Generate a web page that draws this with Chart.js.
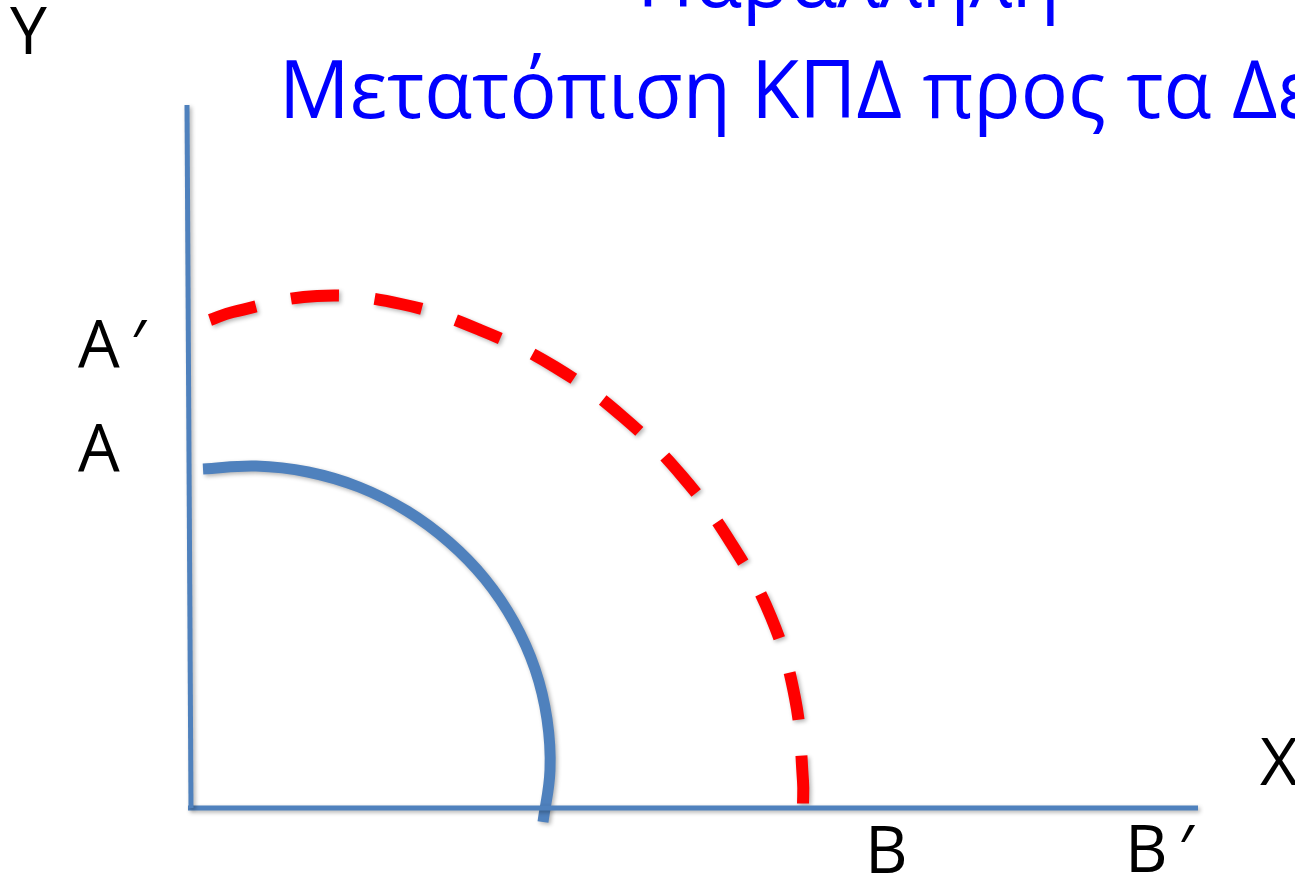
<!DOCTYPE html>
<html>
<head>
<meta charset="utf-8">
<script src="https://cdn.jsdelivr.net/npm/chart.js@4"></script>
<style>
  html, body { margin: 0; padding: 0; background: #fff; overflow: hidden; }
  #wrap { position: relative; width: 1295px; height: 879px; }
</style>
</head>
<body>
<div id="wrap"><canvas id="chart"></canvas></div>
<script>
// slide text
const titleLines = ['Παράλληλη', 'Μετατόπιση ΚΠΔ προς τα Δεξιά'];
const axisNames = ['Y', 'X'];
const tickNames = ['Α\u2009′', 'Α', 'Β', 'Β\u2009′'];

// axis lines (drawn as data, origin at 0,0)
const yAxisLine = [{x: -0.3, y: 70.1}, {x: 0.1, y: -0.2}];
const xAxisLine = [{x: -0.2, y: -0.2}, {x: 100.8, y: -0.2}];

// original curve A-B
const curveAB = [
  {x: 1.3, y: 33.7}, {x: 6.6, y: 34.0}, {x: 11.8, y: 33.4}, {x: 16.9, y: 31.9},
  {x: 21.7, y: 29.5}, {x: 25.9, y: 26.4}, {x: 29.5, y: 22.7}, {x: 32.4, y: 18.4},
  {x: 34.5, y: 13.7}, {x: 35.7, y: 8.7}, {x: 36.0, y: 3.6}, {x: 35.3, y: -1.6}
];

// shifted curve A'-B'
const curveA2B2 = [
  {x: 2.0, y: 48.6}, {x: 4.3, y: 49.4}, {x: 12.7, y: 51.0}, {x: 21.1, y: 50.2},
  {x: 29.0, y: 47.6}, {x: 36.5, y: 43.9}, {x: 43.3, y: 38.9}, {x: 49.2, y: 33.0},
  {x: 54.1, y: 26.3}, {x: 58.1, y: 18.9}, {x: 60.5, y: 10.8}, {x: 61.3, y: 2.5},
  {x: 61.3, y: 0.0}
];

const BLUE = '#4F81BD';
const RED = '#FF0000';

// soft drop shadow like the slide shapes
const shapeShadow = {
  id: 'shapeShadow',
  beforeDatasetsDraw(chart) {
    const ctx = chart.ctx;
    ctx.save();
    ctx.shadowColor = 'rgba(0,0,0,0.3)';
    ctx.shadowBlur = 4;
    ctx.shadowOffsetX = 2;
    ctx.shadowOffsetY = 2;
  },
  afterDatasetsDraw(chart) {
    chart.ctx.restore();
  }
};

// letters on the axes and the (cut off) slide title
const slideText = {
  id: 'slideText',
  afterDraw(chart, args, opts) {
    const {ctx, scales: {x, y}} = chart;
    ctx.save();
    ctx.textBaseline = 'alphabetic';
    ctx.textAlign = 'left';
    ctx.fillStyle = '#000';
    ctx.font = opts.labelFont;
    opts.labels.forEach(l => {
      ctx.fillText(l.text, x.getPixelForValue(l.x), y.getPixelForValue(l.y));
    });

    ctx.fillStyle = '#0000FF';
    ctx.font = opts.titleFont;
    const line2 = titleLines[1];
    const fit = line2.slice(0, line2.lastIndexOf('Δ'));
    const sx = opts.titleFitWidth / ctx.measureText(fit).width;
    opts.titlePos.forEach((p, i) => {
      ctx.save();
      ctx.translate(p[0], p[1]);
      ctx.scale(sx, 1);
      ctx.fillText(titleLines[i], 0, 0);
      ctx.restore();
    });
    ctx.restore();
  }
};

const line = (data, color, width, extra) => Object.assign({
  data,
  showLine: true,
  borderColor: color,
  borderWidth: width,
  pointRadius: 0,
  pointHoverRadius: 0,
  borderCapStyle: 'butt',
  tension: 0,
  fill: false
}, extra);

new Chart(document.getElementById('chart'), {
  type: 'scatter',
  data: {
    datasets: [
      line(yAxisLine, BLUE, 5),
      line(xAxisLine, BLUE, 5),
      line(curveAB, BLUE, 11, {tension: 0.4}),
      line(curveA2B2, RED, 12, {tension: 0.4, borderDash: [48, 36]})
    ]
  },
  options: {
    responsive: true,
    maintainAspectRatio: false,
    animation: false,
    layout: {padding: 0},
    scales: {
      x: {type: 'linear', display: false, min: -19, max: 110.5},
      y: {type: 'linear', display: false, min: -7.3, max: 80.6}
    },
    plugins: {
      legend: {display: false},
      tooltip: {enabled: false},
      slideText: {
        labelFont: '66px "Open Sans", "Noto Sans", "DejaVu Sans", sans-serif',
        titleFont: '81px "Open Sans", "Noto Sans", sans-serif',
        titleFitWidth: 953,
        titlePos: [[637, 7], [279, 118]],
        labels: [
          {text: axisNames[0], x: -18.0, y: 75.2},
          {text: axisNames[1], x: 107.0, y: 2.1},
          {text: tickNames[0], x: -11.2, y: 43.9},
          {text: tickNames[1], x: -11.2, y: 33.5},
          {text: tickNames[2], x: 67.5, y: -6.7},
          {text: tickNames[3], x: 93.5, y: -6.6}
        ]
      }
    }
  },
  plugins: [shapeShadow, slideText]
});
</script>
</body>
</html>
